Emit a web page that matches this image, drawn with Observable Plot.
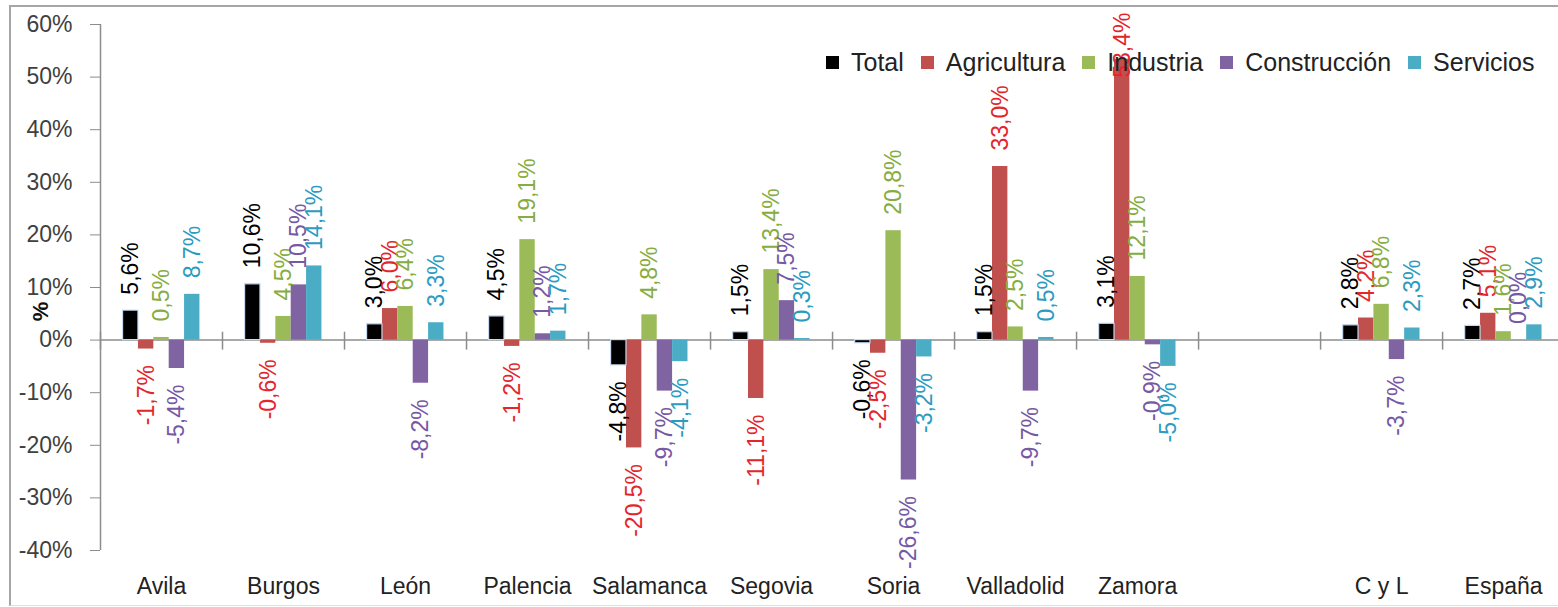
<!DOCTYPE html>
<html>
<head>
<meta charset="utf-8">
<script src="https://cdn.jsdelivr.net/npm/d3@7"></script>
<script src="https://cdn.jsdelivr.net/npm/@observablehq/plot@0.6"></script>
<style>
  html, body { margin: 0; padding: 0; background: #fff; overflow: hidden; }
  #wrap { position: relative; width: 1558px; height: 607px; font-family: "Liberation Sans", Arial, sans-serif; }
  #frame { position: absolute; left: 9px; top: 5px; width: 1600px; height: 598px;
           border-left: 2px solid #a6a6a6; border-top: 2px solid #a6a6a6; border-bottom: 1px solid #e0e0e0; }
  #chart { position: absolute; left: 0; top: 0; }
  #legend { position: absolute; left: 826px; top: 46px; width: 740px; white-space: nowrap; }
  div .lg-swatches { flex-wrap: nowrap !important; }
  div .lg-swatch { margin-right: 17px !important; font-size: 25px; color: #222; white-space: nowrap; }
  div .lg-swatch > svg { margin-right: 12px !important; }
</style>
</head>
<body>
<div id="wrap">
  <div id="frame"></div>
  <div id="chart"></div>
  <div id="legend"></div>
</div>
<script>
const categories = ["Avila","Burgos","León","Palencia","Salamanca","Segovia","Soria","Valladolid","Zamora","","C y L","España"];
const series = ["Total","Agricultura","Industria","Construcción","Servicios"];
const total        = [5.6, 10.6, 3.0, 4.5, -4.8, 1.5, -0.6, 1.5, 3.1, null, 2.8, 2.7];
const agricultura  = [-1.7, -0.6, 6.0, -1.2, -20.5, -11.1, -2.5, 33.0, 53.4, null, 4.2, 5.1];
const industria    = [0.5, 4.5, 6.4, 19.1, 4.8, 13.4, 20.8, 2.5, 12.1, null, 6.8, 1.6];
const construccion = [-5.4, 10.5, -8.2, 1.2, -9.7, 7.5, -26.6, -9.7, -0.9, null, -3.7, 0.0];
const servicios    = [8.7, 14.1, 3.3, 1.7, -4.1, 0.3, -3.2, 0.5, -5.0, null, 2.3, 2.9];
const yTicks = [-40, -30, -20, -10, 0, 10, 20, 30, 40, 50, 60];

const barColors = ["#000000", "#c0504d", "#9bbb59", "#8064a2", "#4bacc6"];
const labelColors = ["#000000", "#e3262b", "#86ad3f", "#7659a3", "#2c9bbf"];

const values = [total, agricultura, industria, construccion, servicios];
const rows = [];
categories.forEach((c, ci) => {
  values.forEach((arr, si) => {
    if (arr[ci] !== null) rows.push({cat: c, ci, series: series[si], si, value: arr[ci]});
  });
});

const yMin = yTicks[0], yMax = yTicks[yTicks.length - 1];
const bw = 0.126;
const left = d => d.ci + 0.5 + (d.si - 2.5) * bw;
const right = d => left(d) + bw;
const mid = d => left(d) + bw / 2;
const fmt = d => d3.format(".1f")(d.value).replace("−", "-").replace(".", ",") + "%";
const font = "Liberation Sans, Arial, sans-serif";
const LFS = 23;

const labelMarks = series.flatMap((s, si) => {
  const mine = rows.filter(d => d.si === si);
  return [
    Plot.text(mine.filter(d => d.value >= 0 && d.value <= yMax - 15), {
      x: mid, y: "value", text: fmt, rotate: -90, textAnchor: "start", lineAnchor: "middle",
      dy: -16, fill: labelColors[si], fontSize: LFS
    }),
    Plot.text(mine.filter(d => d.value < 0), {
      x: mid, y: "value", text: fmt, rotate: -90, textAnchor: "end", lineAnchor: "middle",
      dy: 16, fill: labelColors[si], fontSize: LFS
    }),
    Plot.text(mine.filter(d => d.value > yMax - 15), {
      x: mid, y: () => yMax, text: fmt, rotate: -90, textAnchor: "end", lineAnchor: "middle",
      dy: -12, fill: labelColors[si], fontSize: LFS
    })
  ];
});

const chart = Plot.plot({
  width: 1558,
  height: 607,
  marginLeft: 100,
  marginRight: 0,
  marginTop: 24,
  marginBottom: 57,
  style: {fontFamily: font, background: "transparent", overflow: "visible"},
  x: {type: "linear", domain: [0, categories.length - 0.05], axis: null},
  y: {domain: [yMin, yMax], axis: null},
  color: {domain: series, range: barColors},
  marks: [
    Plot.ruleY([0], {stroke: "#8c8c8c", strokeWidth: 1.5}),
    Plot.ruleX(d3.range(0, categories.length), {y1: -1.9, y2: 1.5, stroke: "#8c8c8c", strokeWidth: 1.5}),
    Plot.ruleX([0], {y1: yMin, y2: yMax, stroke: "#8c8c8c", strokeWidth: 1.5}),
    Plot.axisY({
      ticks: yTicks, tickFormat: d => d + "%", tickSize: 10, tickPadding: 18,
      fontSize: 23, stroke: "#8c8c8c", color: "#404040",
      label: "%", labelAnchor: "center", labelArrow: "none", labelOffset: 68
    }),
    Plot.axisX({
      ticks: categories.map((c, i) => i + 0.5), tickFormat: v => categories[Math.floor(v)],
      tickSize: 0, tickPadding: 27, fontSize: 23, color: "#222"
    }),
    Plot.rectY(rows, {x1: left, x2: right, y1: 0, y2: "value", fill: "series"}),
    Plot.rectY(rows.filter(d => d.si === 0), {x1: left, x2: right, y1: 0, y2: "value", fill: "#000", stroke: "#c6d9f1", strokeWidth: 1.2}),
    ...labelMarks
  ]
});
document.getElementById("chart").appendChild(chart);

// style and nudge the y-axis label
d3.select(chart).selectAll("text").filter(function() { return this.textContent === "%"; })
  .attr("font-weight", "bold").attr("font-size", 22).attr("fill", "#111")
  .attr("transform", function() { return "translate(0,24) " + (this.getAttribute("transform") || ""); });

const legend = Plot.legend({
  color: {type: "ordinal", domain: series, range: barColors},
  legend: "swatches", swatchSize: 13, className: "lg",
  style: {fontFamily: font, fontSize: "25px", color: "#222"}
});
document.getElementById("legend").appendChild(legend);
</script>
</body>
</html>
